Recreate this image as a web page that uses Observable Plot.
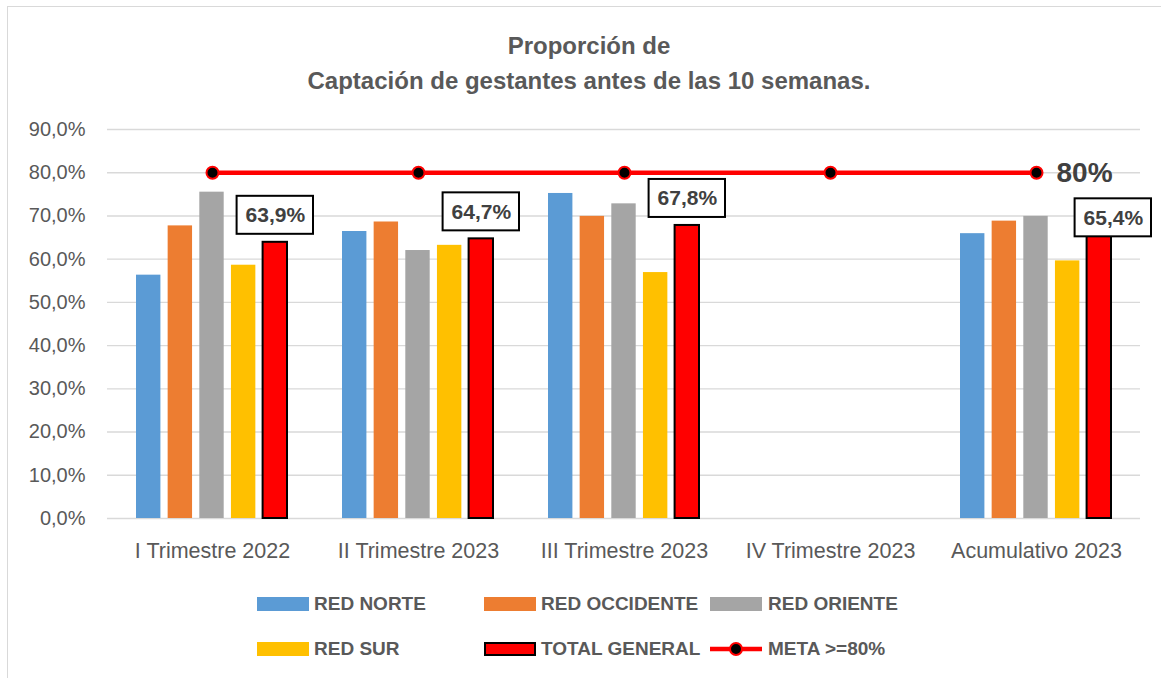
<!DOCTYPE html>
<html>
<head>
<meta charset="utf-8">
<script src="https://cdn.jsdelivr.net/npm/d3@7"></script>
<script src="https://cdn.jsdelivr.net/npm/@observablehq/plot@0.6"></script>
<style>
  html, body { margin: 0; padding: 0; background: #fff; }
  body { width: 1161px; height: 678px; position: relative; overflow: hidden; font-family: "Liberation Sans", Arial, sans-serif; }
  #frame { position: absolute; left: 7px; top: 6px; width: 1160px; height: 690px; border-left: 1.5px solid #d9d9d9; border-top: 1.5px solid #d9d9d9; }
  .title { position: absolute; left: 0; width: 1178px; text-align: center; font-weight: bold; font-size: 24px; color: #595959; line-height: 28px; }
  #chart { position: absolute; left: 0; top: 110px; }
  .lg { position: absolute; font-weight: bold; font-size: 19px; color: #595959; line-height: 22px; white-space: nowrap; }
  .sw { position: absolute; width: 52px; height: 14px; }
</style>
</head>
<body>
<div id="frame"></div>
<div class="title" style="top:32px">Proporción de</div>
<div class="title" style="top:67px">Captación de gestantes antes de las 10 semanas.</div>
<div id="chart"></div>
<div id="legend"></div>
<script>
const categories = ["I Trimestre 2022", "II Trimestre 2023", "III Trimestre 2023", "IV Trimestre 2023", "Acumulativo 2023"];
const redNorte     = [56.3, 66.4, 75.2, null, 65.9];
const redOccidente = [67.7, 68.6, 69.9, null, 68.8];
const redOriente   = [75.5, 62.0, 72.8, null, 69.9];
const redSur       = [58.6, 63.2, 56.9, null, 59.6];
const totalGeneral = [63.9, 64.7, 67.8, null, 65.4];
const meta         = [80, 80, 80, 80, 80];
const seriesNames  = ["RED NORTE", "RED OCCIDENTE", "RED ORIENTE", "RED SUR", "TOTAL GENERAL"];
const seriesColors = ["#5B9BD5", "#ED7D31", "#A5A5A5", "#FFC000", "#FF0000"];
const yTicks       = [0, 10, 20, 30, 40, 50, 60, 70, 80, 90];
const metaLabel    = "80%";
const metaName     = "META >=80%";

const seriesValues = [redNorte, redOccidente, redOriente, redSur, totalGeneral];
const fmt = v => v.toFixed(1).replace(".", ",") + "%";

const W = 1161, H = 458, mL = 107, mR = 21, mT = 19, mB = 50;
const bw = (W - mL - mR) / categories.length;
const barW = 25, step = 31.65, groupOff = 27;

const rows = s => categories.map((c, j) => ({cat: c, v: seriesValues[s][j], j})).filter(d => d.v != null);

const marks = [
  Plot.gridY(yTicks, {stroke: "#d9d9d9", strokeOpacity: 1, strokeWidth: 1.4}),
  Plot.axisY(yTicks, {tickSize: 0, tickPadding: 22, tickFormat: fmt, fontSize: 20, fill: "#595959", label: null}),
  Plot.axisX({tickSize: 0, tickPadding: 24, fontSize: 21.5, fill: "#595959", label: null})
];
seriesValues.forEach((arr, i) => {
  const L = groupOff + step * i;
  const isTotal = i === 4;
  marks.push(Plot.barY(rows(i), {
    x: "cat", y: "v",
    insetLeft: L, insetRight: bw - L - barW,
    fill: seriesColors[i],
    stroke: isTotal ? "#000" : "none",
    strokeWidth: isTotal ? 2 : 0
  }));
});
// label boxes for TOTAL GENERAL
const totCenter = groupOff + step * 4 + barW / 2;
const boxW = 77;
const totRows = rows(4);
const normal = totRows.filter(d => d.j < 4);
const last = totRows.filter(d => d.j === 4);
marks.push(Plot.barY(normal, {
  x: "cat", y1: "v", y2: "v", insetTop: -46, insetBottom: 8,
  insetLeft: totCenter - boxW / 2, insetRight: bw - totCenter - boxW / 2,
  fill: "white", stroke: "#000", strokeWidth: 2
}));
marks.push(Plot.barY(last, {
  x: "cat", y1: "v", y2: "v", insetTop: -37, insetBottom: -1,
  insetLeft: totCenter - boxW / 2 + 14, insetRight: bw - totCenter - boxW / 2 - 14,
  fill: "white", stroke: "#000", strokeWidth: 2
}));
marks.push(Plot.text(normal, {
  x: "cat", y: "v", text: d => fmt(d.v), dx: totCenter - bw / 2, dy: -27,
  fontSize: 21, fontWeight: "bold", fill: "#404040"
}));
marks.push(Plot.text(last, {
  x: "cat", y: "v", text: d => fmt(d.v), dx: totCenter - bw / 2 + 14, dy: -18,
  fontSize: 21, fontWeight: "bold", fill: "#404040"
}));
// meta line
const metaRows = categories.map((c, j) => ({cat: c, v: meta[j]}));
marks.push(Plot.lineY(metaRows, {x: "cat", y: "v", stroke: "#FF0000", strokeWidth: 4.5}));
marks.push(Plot.dot(metaRows, {x: "cat", y: "v", r: 6, fill: "#000", stroke: "#FF0000", strokeWidth: 2}));
marks.push(Plot.text(metaRows.slice(-1), {
  x: "cat", y: "v", text: () => metaLabel, dx: 20, textAnchor: "start",
  fontSize: 28, fontWeight: "bold", fill: "#404040"
}));

const chart = Plot.plot({
  width: W, height: H,
  marginLeft: mL, marginRight: mR, marginTop: mT, marginBottom: mB,
  style: {fontFamily: "'Liberation Sans', Arial, sans-serif", background: "transparent", overflow: "visible"},
  x: {type: "band", domain: categories, paddingInner: 0, paddingOuter: 0},
  y: {domain: [0, 90], range: [H - mB, mT]},
  marks
});
document.getElementById("chart").appendChild(chart);

// legend
const legend = document.getElementById("legend");
const pos = [
  {sx: 257, tx: 314, y: 597},
  {sx: 484, tx: 541, y: 597},
  {sx: 710, tx: 768, y: 597},
  {sx: 257, tx: 314, y: 642},
  {sx: 484, tx: 541, y: 642}
];
seriesNames.forEach((name, i) => {
  const p = pos[i];
  const sw = document.createElement("div");
  sw.className = "sw";
  sw.style.left = p.sx + "px"; sw.style.top = p.y + "px";
  sw.style.background = seriesColors[i];
  if (i === 4) { sw.style.border = "2px solid #000"; sw.style.width = "48px"; sw.style.height = "10px"; }
  legend.appendChild(sw);
  const t = document.createElement("div");
  t.className = "lg"; t.textContent = name;
  t.style.left = p.tx + "px"; t.style.top = (p.y - 4) + "px";
  legend.appendChild(t);
});
const ms = document.createElementNS("http://www.w3.org/2000/svg", "svg");
ms.setAttribute("width", 56); ms.setAttribute("height", 20);
ms.style.position = "absolute"; ms.style.left = "708px"; ms.style.top = "639px";
ms.innerHTML = '<line x1="2" y1="10" x2="54" y2="10" stroke="#FF0000" stroke-width="4.5"/><circle cx="28" cy="10" r="6" fill="#000" stroke="#FF0000" stroke-width="2"/>';
legend.appendChild(ms);
const mt = document.createElement("div");
mt.className = "lg"; mt.textContent = metaName;
mt.style.left = "768px"; mt.style.top = "638px";
legend.appendChild(mt);
</script>
</body>
</html>
